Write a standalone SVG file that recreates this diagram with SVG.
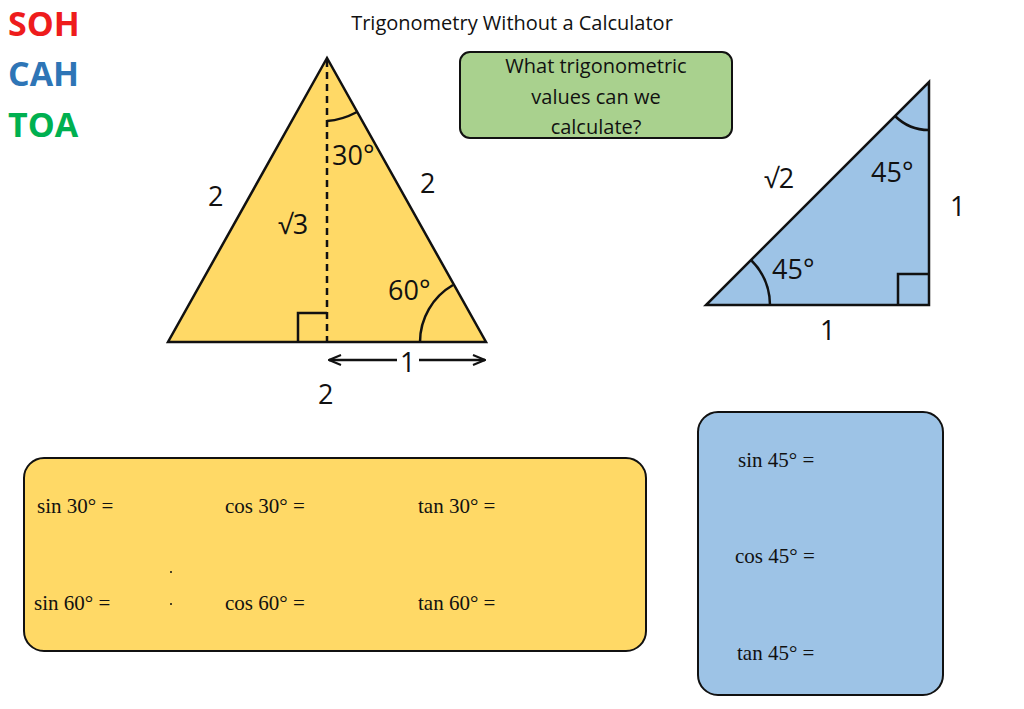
<svg xmlns="http://www.w3.org/2000/svg" width="1024" height="709" viewBox="0 0 1024 709">
<style>
.s{font-family:"Open Sans","Liberation Sans",sans-serif}
.m{font-family:"Liberation Serif",serif;font-size:21px;fill:#111}
.l{font-family:"Open Sans","Liberation Sans",sans-serif;font-size:27px;fill:#111}
.ln{stroke:#111;stroke-width:2.5;fill:none}
</style>
<defs><marker id="ar" markerWidth="14" markerHeight="12" refX="13" refY="6" orient="auto-start-reverse" markerUnits="userSpaceOnUse"><path d="M1,1 L13,6 L1,11" fill="none" stroke="#111" stroke-width="2"/></marker></defs>
<rect width="1024" height="709" fill="#fff"/>
<g id="soh" class="s" font-weight="bold" font-size="34"><text x="8" y="36" fill="#ee1c1c">SOH</text><text x="8" y="86" fill="#2e75b6">CAH</text><text x="8" y="137" fill="#00b050">TOA</text></g>
<text id="title" class="s" x="512" y="30" font-size="20" text-anchor="middle" fill="#111">Trigonometry Without a Calculator</text>
<g id="question"><rect x="460" y="52" width="272" height="86" rx="10" fill="#a9d18e" stroke="#111" stroke-width="2"/><text class="s" font-size="20" text-anchor="middle" fill="#111"><tspan x="596" y="73">What trigonometric</tspan><tspan x="596" y="104">values can we</tspan><tspan x="596" y="134">calculate?</tspan></text></g>
<g id="eqtri">
<polygon points="327,58 168,342 486,342" fill="#ffd966" stroke="#111" stroke-width="2.5"/>
<line x1="327" y1="60" x2="327" y2="342" stroke="#111" stroke-width="2.5" stroke-dasharray="7,5"/>
<path class="ln" d="M298,342 V313 H327"/>
<path class="ln" d="M327,121 Q342,120 357,112"/>
<path class="ln" d="M420,342 A66,66 0 0 1 453,285"/>
<text class="l" x="332" y="165">30°</text>
<text class="l" x="388" y="300">60°</text>
<text class="l" x="208" y="206">2</text>
<text class="l" x="420" y="193">2</text>
<text class="l" x="318" y="404">2</text>
<text class="l" x="278" y="234">√3</text>
</g>
<g id="connectors"><line x1="329" y1="360" x2="397" y2="360" class="ln" stroke-width="2" marker-start="url(#ar)"/><line x1="419" y1="360" x2="485" y2="360" class="ln" stroke-width="2" marker-end="url(#ar)"/></g>
<text class="l" x="400" y="372">1</text>
<g id="rttri">
<polygon points="706,305 929,305 929,82" fill="#9dc3e6" stroke="#111" stroke-width="2.5"/>
<path class="ln" d="M898,305 V274 H929"/>
<path class="ln" d="M929,130 A48,48 0 0 1 895,116"/>
<path class="ln" d="M770,305 A64,64 0 0 0 751,260"/>
<text class="l" x="871" y="182">45°</text>
<text class="l" x="772" y="279">45°</text>
<text class="l" x="764" y="188">√2</text>
<text class="l" x="950" y="216">1</text>
<text class="l" x="820" y="340">1</text>
</g>
<g id="yellowbox"><rect x="24" y="458" width="622" height="193" rx="20" fill="#ffd966" stroke="#111" stroke-width="2"/>
<text class="m" x="37" y="513">sin 30°  =</text><text class="m" x="225" y="513">cos 30°  =</text><text class="m" x="418" y="513">tan 30°  =</text>
<text class="m" x="34" y="610">sin 60°  =</text><text class="m" x="225" y="610">cos 60°  =</text><text class="m" x="418" y="610">tan 60°  =</text>
<circle cx="171" cy="572" r="1" fill="#111"/><circle cx="171" cy="604" r="1" fill="#111"/></g>
<g id="bluebox"><rect x="698" y="412" width="245" height="283" rx="20" fill="#9dc3e6" stroke="#111" stroke-width="2"/>
<text class="m" x="738" y="467">sin 45° =</text><text class="m" x="735" y="563">cos 45° =</text><text class="m" x="737" y="660">tan 45° =</text></g>
</svg>
